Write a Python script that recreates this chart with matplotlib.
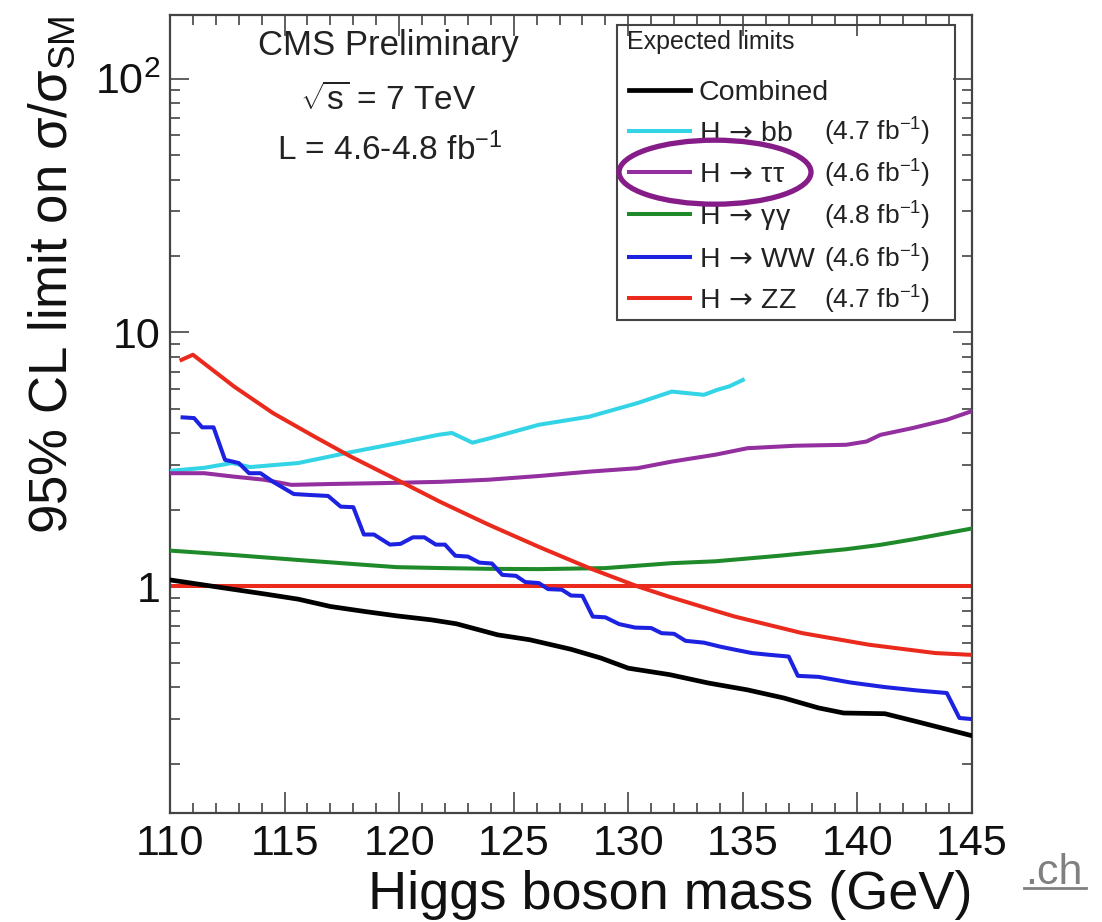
import matplotlib
matplotlib.use("Agg")
import matplotlib.pyplot as plt
from matplotlib.ticker import MultipleLocator, FixedLocator, FixedFormatter, LogLocator, NullFormatter
from matplotlib.patches import Ellipse, Rectangle
from matplotlib.lines import Line2D

plt.rcParams["font.family"] = ["Liberation Sans", "DejaVu Sans"]
plt.rcParams["mathtext.fontset"] = "custom"
plt.rcParams["mathtext.rm"] = "Liberation Sans"
plt.rcParams["mathtext.it"] = "Liberation Sans:italic"
plt.rcParams["mathtext.bf"] = "Liberation Sans:bold"
plt.rcParams["mathtext.sf"] = "DejaVu Sans"

# ---------------- expected 95% CL limits on sigma/sigma_SM ----------------
mass_comb = [110.0, 112.7, 114.1, 115.6, 117.0, 118.5, 119.9, 121.4, 122.5, 124.3,
             125.7, 127.5, 128.8, 130.0, 131.8, 133.5, 135.2, 136.8, 138.3, 139.4,
             141.2, 142.6, 145.0]
lim_comb = [1.06, 0.975, 0.934, 0.89, 0.833, 0.796, 0.765, 0.738, 0.712, 0.644,
            0.616, 0.565, 0.522, 0.476, 0.449, 0.416, 0.391, 0.363, 0.332, 0.317,
            0.315, 0.293, 0.258]

mass_bb = [110.0, 111.5, 112.7, 113.5, 115.6, 117.7, 119.9, 121.7, 122.3, 123.2,
           124.0, 126.1, 128.3, 130.4, 131.9, 133.3, 133.9, 134.4, 135.0]
lim_bb = [2.85, 2.93, 3.06, 2.95, 3.06, 3.35, 3.66, 3.95, 4.02, 3.68,
          3.84, 4.33, 4.66, 5.27, 5.85, 5.68, 5.95, 6.13, 6.5]

mass_tt = [110.0, 111.5, 112.7, 114.1, 115.3, 117.0, 119.2, 121.8, 123.9, 126.1,
           128.3, 130.4, 131.9, 133.8, 135.2, 137.3, 139.5, 140.4, 141.0, 142.4,
           143.9, 145.0]
lim_tt = [2.79, 2.79, 2.71, 2.63, 2.51, 2.53, 2.55, 2.58, 2.63, 2.72,
          2.83, 2.92, 3.10, 3.30, 3.50, 3.58, 3.61, 3.72, 3.95, 4.20,
          4.53, 4.90]

mass_gg = [110.0, 112.7, 115.6, 118.5, 119.9, 121.9, 124.0, 126.1, 129.0, 131.9,
           133.8, 136.6, 139.5, 141.0, 142.4, 145.0]
lim_gg = [1.383, 1.33, 1.27, 1.215, 1.19, 1.18, 1.172, 1.169, 1.18, 1.234,
          1.255, 1.32, 1.40, 1.457, 1.53, 1.69]

mass_ww = [110.55, 111.05, 111.4, 111.9, 112.4, 113.0, 113.45, 113.95, 114.5, 115.4,
           116.1, 116.9, 117.45, 118.0, 118.46, 118.9, 119.6, 120.06, 120.6, 121.1,
           121.6, 122.0, 122.45, 123.0, 123.5, 124.05, 124.5, 125.1, 125.5, 126.1,
           126.5, 127.1, 127.5, 128.0, 128.45, 129.0, 129.6, 130.3, 131.0, 131.45,
           132.0, 132.5, 133.3, 134.0, 134.65, 135.4, 136.1, 137.0, 137.4, 138.3,
           139.7, 141.2, 142.6, 143.9, 144.45, 145.0]
lim_ww = [4.63, 4.60, 4.23, 4.23, 3.15, 3.06, 2.79, 2.79, 2.58, 2.31,
          2.29, 2.27, 2.06, 2.05, 1.60, 1.60, 1.46, 1.47, 1.56, 1.56,
          1.46, 1.46, 1.32, 1.31, 1.24, 1.23, 1.11, 1.10, 1.04, 1.03,
          0.975, 0.97, 0.92, 0.917, 0.76, 0.755, 0.71, 0.688, 0.685, 0.654,
          0.65, 0.61, 0.60, 0.579, 0.563, 0.546, 0.538, 0.529, 0.444, 0.44,
          0.418, 0.401, 0.389, 0.38, 0.303, 0.30]

mass_zz = [110.5, 111.0, 112.8, 114.5, 116.3, 117.9, 119.9, 121.8, 123.9, 126.1,
           128.3, 130.4, 131.75, 133.9, 134.65, 137.6, 140.5, 143.4, 145.0]
lim_zz = [7.8, 8.17, 6.12, 4.81, 3.89, 3.24, 2.63, 2.15, 1.75, 1.43,
          1.18, 1.0, 0.912, 0.796, 0.76, 0.654, 0.589, 0.546, 0.537]

sm_level = 1.0

ARROW = r"$\mathsf{\,\rightarrow\,}$"
channel_names = ["Combined", "H" + ARROW + "bb", "H" + ARROW + "ττ", "H" + ARROW + "γγ",
                 "H" + ARROW + "WW", "H" + ARROW + "ZZ"]
channel_lumi = ["", "(4.7 fb$^{-1}$)", "(4.6 fb$^{-1}$)", "(4.8 fb$^{-1}$)",
                "(4.6 fb$^{-1}$)", "(4.7 fb$^{-1}$)"]
channel_colors = ["#000000", "#33d4e6", "#932f9f", "#1f8a2a", "#1d22e0", "#ea2a1c"]

x_ticks = [110, 115, 120, 125, 130, 135, 140, 145]
y_ticks = [1, 10, 100]
y_ticklabels = ["1", "10", "$10^{2}$"]

# ---------------- figure ----------------
W, H = 1102, 922
fig = plt.figure(figsize=(W / 100, H / 100), dpi=100)


def fig_box(x0, y0, x1, y1):
    return [x0 / W, 1 - y1 / H, (x1 - x0) / W, (y1 - y0) / H]


ax = fig.add_axes(fig_box(170, 15, 972, 813))
ax.set_yscale("log")
ax.set_xlim(110, 145)
ax.set_ylim(0.128, 178)

series = [(mass_comb, lim_comb), (mass_bb, lim_bb), (mass_tt, lim_tt),
          (mass_gg, lim_gg), (mass_ww, lim_ww), (mass_zz, lim_zz)]
widths = [3.4, 2.9, 2.9, 2.9, 2.9, 2.9]
handles = []
for (m, v), c, lw in zip(series, channel_colors, widths):
    ln, = ax.plot(m, v, color=c, lw=lw, solid_joinstyle="round", zorder=3)
    handles.append(ln)
ax.axhline(sm_level, color=channel_colors[5], lw=2.9, zorder=2)

# axes frame and ticks
for sp in ax.spines.values():
    sp.set_color("#444444")
    sp.set_linewidth(1.6)
ax.xaxis.set_major_locator(FixedLocator(x_ticks))
ax.xaxis.set_minor_locator(MultipleLocator(1))
ax.yaxis.set_major_locator(FixedLocator(y_ticks))
ax.yaxis.set_major_formatter(FixedFormatter(y_ticklabels))
ax.yaxis.set_minor_locator(LogLocator(base=10, subs=range(2, 10)))
ax.yaxis.set_minor_formatter(NullFormatter())
ax.tick_params(axis="both", which="both", direction="in", top=True, right=True,
               color="#444444", width=1.2, labelcolor="#111111")
ax.tick_params(axis="x", which="major", length=15, labelsize=31, pad=8)
ax.tick_params(axis="x", which="minor", length=7.5)
ax.tick_params(axis="y", which="major", length=14, labelsize=31, pad=7)
ax.tick_params(axis="y", which="minor", length=7)

ax.set_xlabel("Higgs boson mass (GeV)", fontsize=39, loc="right", color="#111111")
ax.xaxis.set_label_coords(1.0, -0.072)
ax.set_ylabel("95% CL limit on σ/σ$_{\\mathrm{SM}}$", fontsize=38, loc="top", color="#111111")
ax.yaxis.set_label_coords(-0.1147, 1.0)

# header text
fig.text(388 / W, 1 - 45 / H, "CMS Preliminary", ha="center", va="center",
         fontsize=25, color="#222222")
fig.text(388 / W, 1 - 100 / H, r"$\sqrt{\mathrm{s}}$ = 7 TeV", ha="center", va="center",
         fontsize=24, color="#222222")
fig.text(390 / W, 1 - 150 / H, "L = 4.6-4.8 fb$^{-1}$", ha="center", va="center",
         fontsize=24, color="#222222")

# legend box with title
fig.add_artist(Rectangle((617 / W, 1 - 320 / H), (955 - 617) / W, (320 - 25) / H,
                         transform=fig.transFigure, fill=False, ec="#444444", lw=1.5))
fig.text(627 / W, 1 - 42 / H, "Expected limits", ha="left", va="center",
         fontsize=18, color="#222222")

row_y = [90, 131, 173, 215, 257, 299]   # row centres in pixels from the top


def place_legend(top_px):
    return ax.legend(handles, channel_names, loc="upper left",
                     bbox_to_anchor=(629 / W, 1 - top_px / H), bbox_transform=fig.transFigure,
                     frameon=False, fontsize=20.5, handlelength=2.15, handletextpad=0.3,
                     labelspacing=0.53, borderpad=0, borderaxespad=0)


leg = place_legend(row_y[0] - 16)
fig.canvas.draw()
# align the first legend key with its row
key = leg.legend_handles[0]
key_y = key.get_transform().transform(key.get_xydata())[:, 1].mean()
shift = (H - row_y[0]) - key_y
leg.remove()
leg = place_legend(row_y[0] - 16 - shift)
for t in leg.get_texts():
    t.set_color("#222222")
fig.canvas.draw()

for t, lumi in zip(leg.get_texts(), channel_lumi):
    if not lumi:
        continue
    bx, by = t.get_transform().transform(t.get_position())
    fig.text(824 / W, by / H, lumi, ha="left", va="baseline", fontsize=19, color="#222222")

# highlight of the tau channel
tau_key = leg.legend_handles[2]
tau_y = tau_key.get_transform().transform(tau_key.get_xydata())[:, 1].mean()
fig.add_artist(Ellipse((715 / W, tau_y / H), 192 / W, 64 / H, transform=fig.transFigure,
                       fill=False, ec="#861c88", lw=3.8))

# link fragment in the corner
fig.text(1025 / W, 1 - 884 / H, ".ch", ha="left", va="baseline", fontsize=31, color="#808080")
fig.add_artist(Line2D([1024 / W, 1086 / W], [1 - 888 / H, 1 - 888 / H],
                      transform=fig.transFigure, color="#808080", lw=2))

fig.savefig("out.png", dpi=100)
